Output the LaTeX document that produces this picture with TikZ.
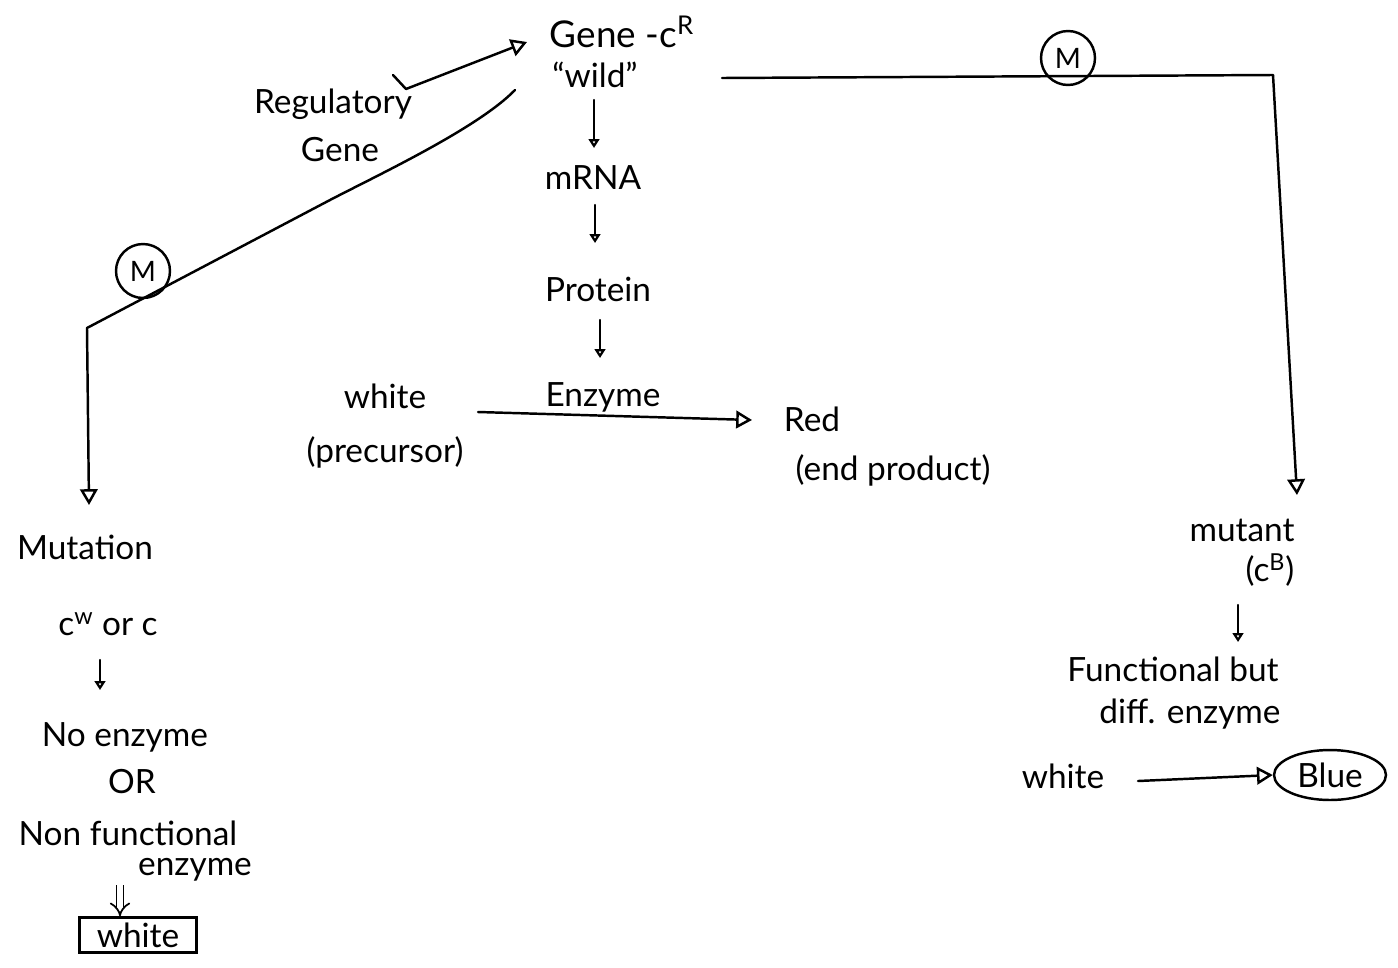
\documentclass[tikz,border=0pt]{standalone}
\usepackage{fontspec}
\setmainfont{Lato}
\usetikzlibrary{arrows.meta,shapes.geometric}
\begin{document}
\begin{tikzpicture}[x=0.02cm,y=-0.02cm,
  txt/.style={inner sep=1pt, font=\fontsize{19}{22}\selectfont},
  line/.style={line width=1.4pt, line cap=round, line join=round},
  oarrow/.style={line width=1.4pt, line cap=round, line join=round, -{Triangle[open,length=9pt,width=10pt]}},
  sarrow/.style={line width=1.4pt, line cap=round, -{Triangle[open,length=5pt,width=6pt]}},
  dblarrow/.style={double distance=3pt, line width=1pt, -{Implies[length=5pt]}},
  mcirc/.style={circle, draw, line width=1.4pt, minimum size=1.08cm, inner sep=0pt, font=\fontsize{16}{18}\selectfont}]
\useasboundingbox (0,0) rectangle (1398,967);
\fill[white] (0,0) rectangle (1398,967);

% centre column
\node[txt, font=\fontsize{21}{24}\selectfont] (gene) at (622,32) {Gene -c\textsuperscript{R}};
\node[txt] (wild) at (595,75) {“wild”};
\node[txt] (mrna) at (593,178) {mRNA};
\node[txt] (prot) at (598,289) {Protein};
\node[txt] (enz) at (603,397) {Enzyme};
\node[txt] (white1) at (385,396) {white};
\node[txt] (prec) at (385,452) {(precursor)};
\node[txt] (red) at (812,419) {Red};
\node[txt] (endp) at (893,470) {(end product)};
\node[txt] (reg1) at (333,104) {Regulatory};
\node[txt] (reg2) at (340,150) {Gene};

\coordinate (a1) at (594,100); \coordinate (b1) at (594,148);
\coordinate (a2) at (595,205); \coordinate (b2) at (595,243);
\coordinate (a3) at (600,320); \coordinate (b3) at (600,358);
\draw[sarrow] (a1) -- (b1);
\draw[sarrow] (a2) -- (b2);
\draw[sarrow] (a3) -- (b3);

\coordinate (h1) at (478,412);
\coordinate (h2) at (752,420);
\draw[oarrow] (h1) -- (h2);

% regulatory gene pointer
\coordinate (r0) at (393,75);
\coordinate (r1) at (406,89);
\coordinate (r2) at (527,42);
\draw[oarrow] (r0) -- (r1) -- (r2);

% left branch
\coordinate (lb0) at (515,90);
\coordinate (lb1) at (330,200);
\coordinate (lb2) at (87,328);
\coordinate (lb3) at (89,505);
\draw[oarrow] (lb0) .. controls (478,128) and (380,174) .. (lb1) -- (lb2) -- (lb3);
\node[mcirc] (m1) at (143,271) {M};

\node[txt] (mut) at (85,547) {Mutation};
\node[txt] (cw) at (108,624) {c\textsuperscript{w} or c};
\node[txt] (noenz) at (125,737) {No enzyme};
\node[txt] (or) at (132,782) {OR};
\node[txt] (nonf) at (128,833) {Non functional};
\node[txt] (enz2) at (195,870) {enzyme};
\node[txt, draw, line width=1.4pt, minimum width=2.34cm, minimum height=0.7cm, inner sep=2pt] (wbox) at (138,935) {white};
\coordinate (a4) at (100,660); \coordinate (b4) at (100,690);
\draw[sarrow] (a4) -- (b4);
\coordinate (a5) at (120,885);
\draw[dblarrow] (a5) -- (wbox.north -| a5);

% right branch
\coordinate (rb0) at (722,78);
\coordinate (rb1) at (1273,75);
\coordinate (rb2) at (1297,495);
\draw[oarrow] (rb0) -- (rb1) -- (rb2);
\node[mcirc] (m2) at (1068,58) {M};

\node[txt] (mutant) at (1242,530) {mutant};
\node[txt] (cb) at (1270,570) {(c\textsuperscript{B})};
\node[txt] (func) at (1173,669) {Functional but};
\node[txt] (diff) at (1190,714) {diff. enzyme};
\node[txt] (white2) at (1063,776) {white};
\node[txt, ellipse, draw, line width=1.4pt, minimum width=2.24cm, minimum height=1cm, inner sep=0pt] (blue) at (1330,775) {Blue};
\coordinate (a6) at (1238,605); \coordinate (b6) at (1238,642);
\draw[sarrow] (a6) -- (b6);
\coordinate (a7) at (1138,781);
\draw[oarrow] (a7) -- (blue.west);
\end{tikzpicture}
\end{document}
